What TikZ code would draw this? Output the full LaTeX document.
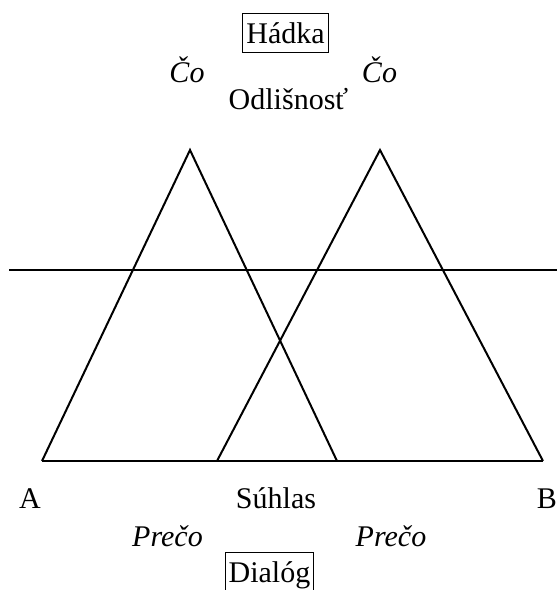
\documentclass[tikz,border=0pt]{standalone}
\usepackage{fontspec}
\setmainfont{Liberation Serif}

\begin{document}
\begin{tikzpicture}[x=1pt,y=-1pt,font=\fontsize{30}{36}\selectfont,
  lbl/.style={anchor=base,inner sep=0pt},
  qlbl/.style={lbl,font=\fontsize{30}{36}\selectfont\itshape},
  boxlbl/.style={draw,line width=0.8pt,anchor=base,inner xsep=3.5pt,inner ysep=9pt},
  tri/.style={line width=2pt,line join=miter}]
  \useasboundingbox (0,0) rectangle (557,590);

  % ===== triangles =====
  \coordinate (apexA) at (190,150);
  \coordinate (leftA) at (42,461);
  \coordinate (rightA) at (337,461);
  \coordinate (apexB) at (380,150);
  \coordinate (leftB) at (217,461);
  \coordinate (rightB) at (543,461);
  \draw[tri] (leftA) -- (apexA) -- (rightA);
  \draw[tri] (leftB) -- (apexB) -- (rightB);
  \draw[tri] (leftA) -- (rightB);

  % ===== horizon =====
  \coordinate (hzL) at (9,270);
  \coordinate (hzR) at (557,270);
  \draw[tri] (hzL) -- (hzR);

  % ===== top labels =====
  \node[boxlbl] (hadka) at (285.5,43) {Hádka};
  \node[qlbl] (coA) at (187,82) {Čo};
  \node[qlbl] (coB) at (379.5,82) {Čo};
  \node[lbl] (odlis) at (288.5,109) {Odlišnosť};

  % ===== bottom labels =====
  \node[lbl] (ptA) at (30,508) {A};
  \node[lbl] (suhlas) at (276,508) {Súhlas};
  \node[lbl] (ptB) at (547,508) {B};
  \node[qlbl] (precoA) at (167.5,546) {Prečo};
  \node[qlbl] (precoB) at (391,546) {Prečo};
  \node[boxlbl] (dialog) at (269.5,582.5) {Dialóg};
\end{tikzpicture}
\end{document}
